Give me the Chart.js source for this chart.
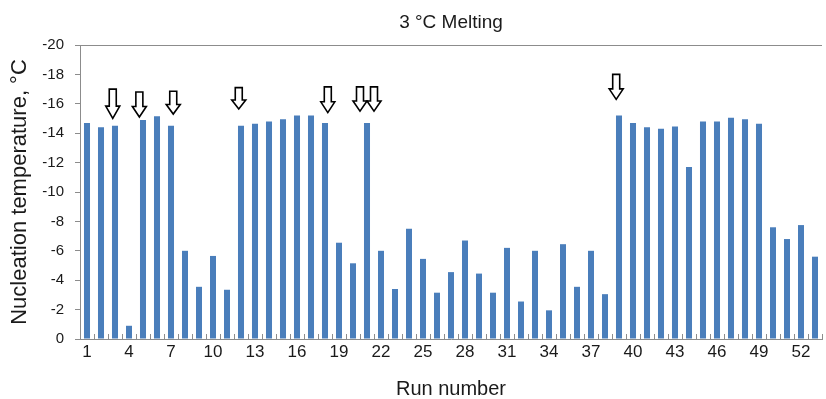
<!DOCTYPE html>
<html>
<head>
<meta charset="utf-8">
<script src="https://cdn.jsdelivr.net/npm/chart.js@4.4.1/dist/chart.umd.min.js"></script>
<style>
  html, body { margin: 0; padding: 0; background: #fff; }
  #wrap { width: 826px; height: 399px; }
</style>
</head>
<body>
<div id="wrap"><canvas id="grafico"></canvas></div>
<script>
// Datos
const runs = [1, 2, 3, 4, 5, 6, 7, 8, 9, 10, 11, 12, 13, 14, 15, 16, 17, 18, 19, 20,
    21, 22, 23, 24, 25, 26, 27, 28, 29, 30, 31, 32, 33, 34, 35, 36, 37, 38, 39, 40,
    41, 42, 43, 44, 45, 46, 47, 48, 49, 50, 51, 52, 53];

const temps = [-14.7, -14.4, -14.5, -0.9, -14.9, -15.15, -14.5, -6.0, -3.55, -5.65,
    -3.35, -14.5, -14.65, -14.8, -14.95, -15.2, -15.2, -14.7, -6.55, -5.15,
    -14.7, -6.0, -3.4, -7.5, -5.45, -3.15, -4.55, -6.7, -4.45, -3.15,
    -6.2, -2.55, -6.0, -1.95, -6.45, -3.55, -6.0, -3.05, -15.2, -14.7,
    -14.4, -14.3, -14.45, -11.7, -14.8, -14.8, -15.05, -14.95, -14.65, -7.6,
    -6.8, -7.75, -5.6];

// flechas: posición en número de corrida, punta y cola en °C
const arrowRun = [2.84, 4.74, 7.16, 11.84, 18.2, 20.5, 21.5, 38.8];
const arrowTip = [-15.0, -15.1, -15.3, -15.65, -15.4, -15.5, -15.5, -16.3];
const arrowTail = [-17.0, -16.8, -16.85, -17.1, -17.15, -17.15, -17.15, -18.0];

const yTicks = [-20, -18, -16, -14, -12, -10, -8, -6, -4, -2, 0];

const ejeColor = '#8c8c8c';
const textoColor = '#1a1a1a';

const extras = {
    id: 'extras',
    afterDatasetsDraw(chart) {
        const { ctx, chartArea, scales } = chart;
        const x = scales.x, y = scales.y;
        ctx.save();
        // línea superior
        ctx.strokeStyle = ejeColor;
        ctx.lineWidth = 1;
        ctx.beginPath();
        ctx.moveTo(chartArea.left, chartArea.top + 0.5);
        ctx.lineTo(chartArea.right, chartArea.top + 0.5);
        ctx.stroke();
        // marcas del eje x entre barras
        ctx.beginPath();
        for (let i = 0; i <= runs.length; i++) {
            const px = Math.round(x.getPixelForValue(i - 0.5)) + 0.5;
            ctx.moveTo(px, chartArea.bottom);
            ctx.lineTo(px, chartArea.bottom - 5);
        }
        ctx.stroke();
        // flechas
        ctx.strokeStyle = '#000';
        ctx.fillStyle = '#fff';
        ctx.lineWidth = 1.6;
        arrowRun.forEach((r, i) => {
            const cx = x.getPixelForValue(r - 1);
            const tipY = y.getPixelForValue(arrowTip[i]);
            const topY = y.getPixelForValue(arrowTail[i]);
            const h = tipY - topY;
            const headH = h * 0.42;
            const sw = 3.5, hw = 7;
            ctx.beginPath();
            ctx.moveTo(cx - sw, topY);
            ctx.lineTo(cx + sw, topY);
            ctx.lineTo(cx + sw, tipY - headH);
            ctx.lineTo(cx + hw, tipY - headH);
            ctx.lineTo(cx, tipY);
            ctx.lineTo(cx - hw, tipY - headH);
            ctx.lineTo(cx - sw, tipY - headH);
            ctx.closePath();
            ctx.fill();
            ctx.stroke();
        });
        ctx.restore();
    }
};

const ctx = document.getElementById('grafico').getContext('2d');
new Chart(ctx, {
    type: 'bar',
    data: {
        labels: runs,
        datasets: [{
            data: temps,
            backgroundColor: '#4a7ebb',
            borderWidth: 0,
            barPercentage: 0.43,
            categoryPercentage: 1
        }]
    },
    options: {
        responsive: true,
        maintainAspectRatio: false,
        animation: false,
        layout: { padding: { left: 0, right: 4, top: 0, bottom: 0 } },
        plugins: {
            legend: { display: false },
            tooltip: { enabled: false },
            title: {
                display: true,
                text: '3 °C Melting',
                color: textoColor,
                fullSize: false,
                font: { family: 'Liberation Sans, Arial, sans-serif', size: 19, weight: 'normal' },
                padding: { top: 11, bottom: 11.2 }
            }
        },
        scales: {
            x: {
                grid: { display: false, drawTicks: false },
                border: { display: true, color: ejeColor, width: 1 },
                ticks: {
                    autoSkip: false,
                    maxRotation: 0,
                    padding: 3,
                    color: textoColor,
                    font: { family: 'Liberation Sans, Arial, sans-serif', size: 17 },
                    callback: (v, i) => (i % 3 === 0 ? runs[i] : '')
                },
                title: {
                    display: true,
                    text: 'Run number',
                    color: textoColor,
                    font: { family: 'Liberation Sans, Arial, sans-serif', size: 20, lineHeight: 1 },
                    padding: { top: 0, bottom: 0 }
                },
                afterFit: s => { s.height = 60; }
            },
            y: {
                reverse: true,
                min: -20,
                max: 0,
                afterBuildTicks: s => { s.ticks = yTicks.map(v => ({ value: v })); },
                grid: { drawOnChartArea: false, drawTicks: true, tickLength: 5, color: ejeColor },
                border: { display: true, color: ejeColor, width: 1 },
                ticks: {
                    padding: 11,
                    color: textoColor,
                    font: { family: 'Liberation Sans, Arial, sans-serif', size: 15 }
                },
                title: {
                    display: true,
                    text: 'Nucleation temperature, °C',
                    color: textoColor,
                    font: { family: 'Liberation Sans, Arial, sans-serif', size: 22 },
                    padding: { top: 7, bottom: 0 }
                },
                afterFit: s => { s.width = 80; }
            }
        }
    },
    plugins: [extras]
});
</script>
</body>
</html>
